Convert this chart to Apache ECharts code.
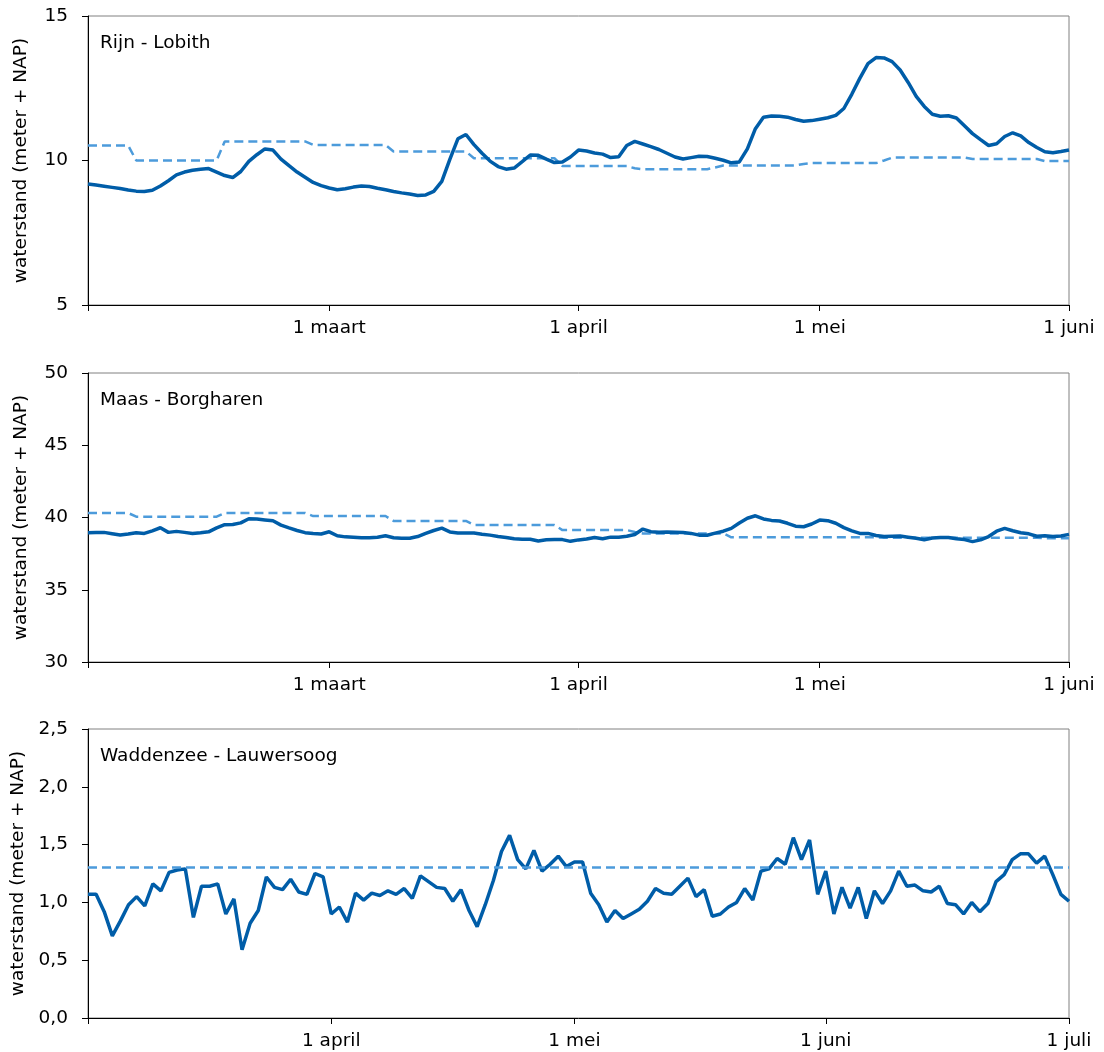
<!DOCTYPE html>
<html>
<head>
<meta charset="utf-8">
<script src="https://cdn.jsdelivr.net/npm/echarts@6/dist/echarts.min.js"></script>
<style>
  html, body { margin: 0; padding: 0; background: #fff; }
  #chart { width: 1104px; height: 1052px; }
</style>
</head>
<body>
<div id="chart"></div>
<script>
// ---------- DATA ----------
// Panel titles
const panelTitles = ['Rijn - Lobith', 'Maas - Borgharen', 'Waddenzee - Lauwersoog'];
const yAxisName = 'waterstand (meter + NAP)';
const monthNames = ['januari', 'februari', 'maart', 'april', 'mei', 'juni', 'juli'];

// Tick labels shown on the x axes
const riverTickLabels = ['1 maart', '1 april', '1 mei', '1 juni'];
const waddenTickLabels = ['1 april', '1 mei', '1 juni', '1 juli'];

// Daily series, Rijn & Maas: 30 jan .. 1 juni; Waddenzee: 2 maart .. 1 juli
const riverStart = [2011, 0, 30];
const waddenStart = [2011, 2, 2];

const rijnActual = [
  9.19, 9.15, 9.11, 9.07, 9.03, 8.98, 8.94, 8.93, 8.97, 9.12,
  9.30, 9.50, 9.60, 9.66, 9.70, 9.72, 9.60, 9.48, 9.41, 9.62,
  9.97, 10.20, 10.40, 10.36, 10.05, 9.82, 9.60, 9.42, 9.24, 9.13,
  9.05, 8.99, 9.02, 9.08, 9.12, 9.10, 9.04, 8.99, 8.93, 8.88,
  8.84, 8.79, 8.81, 8.93, 9.28, 10.04, 10.75, 10.90, 10.55, 10.25,
  9.98, 9.79, 9.70, 9.74, 9.96, 10.19, 10.18, 10.05, 9.93, 9.95,
  10.12, 10.36, 10.33, 10.26, 10.22, 10.10, 10.13, 10.52, 10.66, 10.57,
  10.48, 10.38, 10.25, 10.12, 10.05, 10.10, 10.15, 10.14, 10.08, 10.01,
  9.92, 9.95, 10.40, 11.10, 11.50, 11.54, 11.53, 11.50, 11.42, 11.36,
  11.38, 11.43, 11.48, 11.56, 11.80, 12.30, 12.85, 13.35, 13.56, 13.55,
  13.42, 13.13, 12.70, 12.22, 11.87, 11.60, 11.53, 11.55, 11.47, 11.20,
  10.93, 10.72, 10.52, 10.58, 10.83, 10.96, 10.85, 10.62, 10.45, 10.30,
  10.27, 10.31, 10.36
];
const rijnNormal = [
  10.52, 10.52, 10.52, 10.52, 10.52, 10.52,
  10.00, 10.00, 10.00, 10.00, 10.00, 10.00, 10.00, 10.00, 10.00, 10.00, 10.00,
  10.66, 10.66, 10.66, 10.66, 10.66, 10.66, 10.66, 10.66, 10.66, 10.66, 10.66,
  10.54, 10.54, 10.54, 10.54, 10.54, 10.54, 10.54, 10.54, 10.54, 10.54,
  10.31, 10.31, 10.31, 10.31, 10.31, 10.31, 10.31, 10.31, 10.31, 10.31,
  10.08, 10.08, 10.08, 10.08, 10.08, 10.08, 10.08, 10.08, 10.08, 10.08, 10.08,
  9.81, 9.81, 9.81, 9.81, 9.81, 9.81, 9.81, 9.81, 9.81,
  9.73,
  9.70, 9.70, 9.70, 9.70, 9.70, 9.70, 9.70, 9.70, 9.70,
  9.76,
  9.83, 9.83, 9.83, 9.83, 9.83, 9.83, 9.83, 9.83, 9.83, 9.83,
  9.88,
  9.91, 9.91, 9.91, 9.91, 9.91, 9.91, 9.91, 9.91, 9.91,
  10.00,
  10.10, 10.10, 10.10, 10.10, 10.10, 10.10, 10.10, 10.10, 10.10, 10.10,
  10.05, 10.05, 10.05, 10.05, 10.05, 10.05, 10.05, 10.05, 10.05,
  9.98, 9.98, 9.98, 9.98
];

const maasActual = [
  38.95, 38.96, 38.97, 38.88, 38.79, 38.86, 38.95, 38.90, 39.08, 39.29,
  38.97, 39.04, 38.97, 38.90, 38.95, 39.01, 39.28, 39.50, 39.52, 39.63,
  39.91, 39.89, 39.83, 39.77, 39.47, 39.28, 39.10, 38.95, 38.90, 38.86,
  39.01, 38.74, 38.66, 38.64, 38.60, 38.60, 38.63, 38.74, 38.60, 38.57,
  38.56, 38.68, 38.90, 39.10, 39.26, 39.00, 38.93, 38.93, 38.92, 38.84,
  38.78, 38.68, 38.62, 38.53, 38.50, 38.49, 38.38, 38.46, 38.47, 38.47,
  38.35, 38.45, 38.51, 38.62, 38.53, 38.64, 38.63, 38.70, 38.82, 39.20,
  39.02, 38.98, 38.99, 38.98, 38.97, 38.90, 38.78, 38.77, 38.92, 39.05,
  39.25, 39.62, 39.95, 40.12, 39.90, 39.80, 39.76, 39.60, 39.40, 39.36,
  39.55, 39.82, 39.78, 39.60, 39.30, 39.07, 38.90, 38.90, 38.75, 38.68,
  38.70, 38.72, 38.64, 38.56, 38.46, 38.58, 38.62, 38.61, 38.53, 38.47,
  38.33, 38.45, 38.68, 39.05, 39.25, 39.08, 38.95, 38.87, 38.70, 38.74,
  38.68, 38.72, 38.83
];
const maasNormal = [
  40.31, 40.31, 40.31, 40.31, 40.31, 40.31,
  40.06, 40.06, 40.06, 40.06, 40.06, 40.06, 40.06, 40.06, 40.06, 40.06, 40.06,
  40.31, 40.31, 40.31, 40.31, 40.31, 40.31, 40.31, 40.31, 40.31, 40.31, 40.31,
  40.10, 40.10, 40.10, 40.10, 40.10, 40.10, 40.10, 40.10, 40.10, 40.10,
  39.76, 39.76, 39.76, 39.76, 39.76, 39.76, 39.76, 39.76, 39.76, 39.76,
  39.48, 39.48, 39.48, 39.48, 39.48, 39.48, 39.48, 39.48, 39.48, 39.48, 39.48,
  39.13, 39.13, 39.13, 39.13, 39.13, 39.13, 39.13, 39.13, 39.13,
  39.00,
  38.90, 38.90, 38.90, 38.90, 38.90, 38.90, 38.90, 38.90, 38.90, 38.90, 38.90,
  38.63, 38.63, 38.63, 38.63, 38.63, 38.63, 38.63, 38.63, 38.63, 38.63,
  38.63, 38.63, 38.63, 38.63, 38.63, 38.63, 38.63, 38.63, 38.63,
  38.60, 38.60, 38.60, 38.60, 38.60, 38.60, 38.60, 38.60, 38.60, 38.60,
  38.60, 38.60, 38.60, 38.60, 38.60, 38.60, 38.60, 38.60, 38.60, 38.60,
  38.56, 38.56, 38.56, 38.56
];

const waddenActual = [
  1.07, 1.07, 0.92, 0.71, 0.84, 0.98, 1.05, 0.97, 1.16, 1.10,
  1.26, 1.28, 1.29, 0.87, 1.14, 1.14, 1.16, 0.90, 1.03, 0.59,
  0.82, 0.93, 1.22, 1.13, 1.11, 1.20, 1.09, 1.07, 1.25, 1.22,
  0.90, 0.96, 0.83, 1.08, 1.02, 1.08, 1.06, 1.10, 1.07, 1.12,
  1.035, 1.23, 1.18, 1.13, 1.12, 1.01, 1.11, 0.93, 0.79, 0.98,
  1.19, 1.44, 1.58, 1.37, 1.29, 1.45, 1.27, 1.33, 1.40, 1.31,
  1.35, 1.35, 1.08, 0.98, 0.83, 0.93, 0.86, 0.90, 0.94, 1.01,
  1.12, 1.08, 1.07, 1.14, 1.21, 1.05, 1.11, 0.88, 0.90, 0.96,
  1.00, 1.12, 1.02, 1.27, 1.29, 1.38, 1.33, 1.56, 1.37, 1.54,
  1.07, 1.27, 0.90, 1.13, 0.95, 1.13, 0.86, 1.10, 0.99, 1.10,
  1.27, 1.14, 1.15, 1.10, 1.09, 1.14, 0.99, 0.98, 0.90, 1.00,
  0.92, 0.99, 1.18, 1.24, 1.37, 1.42, 1.42, 1.34, 1.40, 1.24,
  1.07, 1.01
];
const waddenNormal = 1.30;

// Y axis ranges / steps
const rijnY = [5, 15, 5];
const maasY = [30, 50, 5];
const waddenY = [0, 2.5, 0.5];

// ---------- BUILD ----------
function makeDates(start, n) {
  const out = [];
  const t0 = Date.UTC(start[0], start[1], start[2]);
  for (let i = 0; i < n; i++) out.push(new Date(t0 + i * 86400000).toISOString().slice(0, 10));
  return out;
}
const riverDays = makeDates(riverStart, rijnActual.length);
const waddenDays = makeDates(waddenStart, waddenActual.length);
const dayLabel = v => +v.slice(8) + ' ' + monthNames[+v.slice(5, 7) - 1];

const FONT = 'DejaVu Sans';
const FS = 18.5;
const SOLID = '#005DA8';
const DASH = '#4C9BDB';

const grids = [
  { left: 88, right: 35, top: 16, height: 289 },
  { left: 88, right: 35, top: 373, height: 289 },
  { left: 88, right: 35, top: 729, height: 289 }
].map(g => Object.assign(g, { show: true, borderColor: '#808080', borderWidth: 1, backgroundColor: 'transparent' }));

function xAxis(idx, days, labels) {
  const shown = (i, v) => labels.indexOf(dayLabel(v)) >= 0;
  return {
    gridIndex: idx, type: 'category', data: days, boundaryGap: false,
    axisLine: { show: true, lineStyle: { color: '#000', width: 1 } },
    axisTick: { show: true, length: 6, interval: (i, v) => i === 0 || shown(i, v), lineStyle: { color: '#000' } },
    axisLabel: {
      interval: shown,
      formatter: v => dayLabel(v),
      fontFamily: FONT, fontSize: FS, color: '#000', margin: 14
    },
    splitLine: { show: false }
  };
}
function yAxis(idx, r, fmt) {
  return {
    gridIndex: idx, type: 'value', min: r[0], max: r[1], interval: r[2],
    name: yAxisName, nameLocation: 'middle', nameGap: 57,
    nameTextStyle: { fontFamily: FONT, fontSize: FS, color: '#000' },
    axisLine: { show: true, lineStyle: { color: '#000', width: 1 } },
    axisTick: { show: true, length: 6, lineStyle: { color: '#000' } },
    axisLabel: { fontFamily: FONT, fontSize: FS, color: '#000', margin: 20, formatter: fmt },
    splitLine: { show: false }
  };
}
const commaFmt = v => v.toFixed(1).replace('.', ',');

const titleTops = [34, 391, 747];
const option = {
  animation: false,
  backgroundColor: '#fff',
  title: panelTitles.map((t, i) => ({
    text: t, left: 100, top: titleTops[i], padding: 0,
    textStyle: { fontFamily: FONT, fontSize: FS, fontWeight: 'normal', color: '#000' }
  })),
  grid: grids,
  xAxis: [xAxis(0, riverDays, riverTickLabels), xAxis(1, riverDays, riverTickLabels), xAxis(2, waddenDays, waddenTickLabels)],
  yAxis: [yAxis(0, rijnY), yAxis(1, maasY), yAxis(2, waddenY, commaFmt)],
  series: [
    { type: 'line', xAxisIndex: 0, yAxisIndex: 0, data: rijnNormal, symbol: 'none', z: 2,
      lineStyle: { color: DASH, width: 2.5, type: [9, 5] } },
    { type: 'line', xAxisIndex: 0, yAxisIndex: 0, data: rijnActual, symbol: 'none', z: 3,
      lineStyle: { color: SOLID, width: 3.5 } },
    { type: 'line', xAxisIndex: 1, yAxisIndex: 1, data: maasNormal, symbol: 'none', z: 2,
      lineStyle: { color: DASH, width: 2.5, type: [9, 5] } },
    { type: 'line', xAxisIndex: 1, yAxisIndex: 1, data: maasActual, symbol: 'none', z: 3,
      lineStyle: { color: SOLID, width: 3.5 } },
    { type: 'line', xAxisIndex: 2, yAxisIndex: 2, data: [], symbol: 'none', z: 2,
      markLine: { silent: true, symbol: ['none', 'none'], label: { show: false },
        lineStyle: { color: DASH, width: 2.5, type: [9, 5] },
        data: [{ yAxis: waddenNormal }] } },
    { type: 'line', xAxisIndex: 2, yAxisIndex: 2, data: waddenActual, symbol: 'none', z: 3,
      lineStyle: { color: SOLID, width: 3.5 } }
  ]
};
const chart = echarts.init(document.getElementById('chart'), null, { renderer: 'canvas' });
chart.setOption(option);
</script>
</body>
</html>
